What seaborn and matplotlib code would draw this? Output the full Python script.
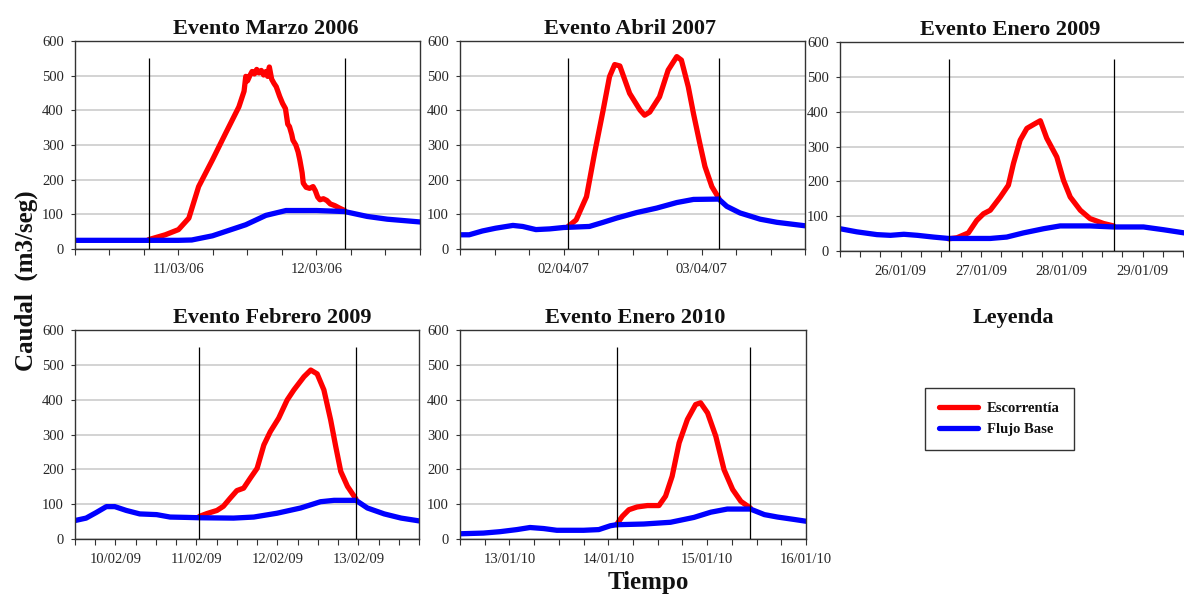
import pandas as pd
import numpy as np
import matplotlib
matplotlib.use("Agg")
import matplotlib.pyplot as plt
import matplotlib.dates as mdates
from matplotlib.lines import Line2D
import seaborn as sns

# --- Datos (horas relativas al dia de referencia de cada evento, caudal m3/seg) ---
TITULOS = ["Evento Marzo 2006", "Evento Abril 2007", "Evento Enero 2009",
           "Evento Febrero 2009", "Evento Enero 2010"]
FECHA_REF = ["2006-03-11", "2007-04-02", "2009-01-27", "2009-02-11", "2010-01-14"]
XLIM_H = [(-18, 42), (-18, 42), (-42, 66), (-36, 66), (-36, 48)]
LIMITES_H = [(-5.2, 28.9), (0.8, 27.0), (-9.7, 39.4), (0.9, 47.3), (2.0, 34.5)]
SERIES = ["Escorrentía", "Flujo Base"]

# Evento Marzo 2006
mar06_esc_h = [-5.2, -2.3, 0.0, 1.8, 3.5, 5.9, 8.2, 10.5, 11.4, 11.7, 12.0, 12.4, 12.8,
               13.2, 13.6, 14.0, 14.4, 14.8, 15.2, 15.5, 15.8, 16.2, 16.6, 17.0, 17.6,
               18.1, 18.6, 19.0, 19.3, 19.7, 19.9, 20.4, 20.8, 21.1, 21.5, 21.7, 22.2,
               22.8, 23.4, 23.8, 24.2, 24.6, 25.2, 25.8, 26.4, 27.2, 28.0, 28.9]
mar06_esc_q = [27, 41, 56, 89, 180, 257, 334, 410, 455, 498, 485, 500, 512,
               505, 518, 508, 515, 502, 512, 498, 525, 490, 478, 468, 440,
               420, 405, 360, 353, 330, 314, 300, 280, 257, 220, 190, 178,
               175, 180, 168, 150, 142, 145, 140, 130, 125, 118, 111]
mar06_base_h = [-18, -6, 0, 2.3, 5.9, 11.7, 15.2, 18.7, 24.0, 28.9, 32.8, 36.3, 42]
mar06_base_q = [25, 25, 25, 26, 38, 70, 97, 111, 111, 108, 94, 86, 78]

# Evento Abril 2007
abr07_esc_h = [0.8, 2.2, 4.0, 5.4, 6.9, 8.0, 8.9, 9.8, 11.5, 13.3, 14.1, 15.0, 16.7,
               18.2, 19.7, 20.5, 21.7, 22.6, 23.7, 24.6, 25.8, 27.0]
abr07_esc_q = [65, 84, 151, 276, 401, 497, 532, 528, 449, 401, 386, 395, 439,
               516, 555, 545, 468, 391, 305, 238, 180, 147]
abr07_base_h = [-18, -16.4, -14.1, -11.8, -8.8, -7.1, -4.8, -2.4, 0.0, 4.5, 6.9, 9.2,
                12.7, 16.2, 19.7, 22.6, 27.0, 28.4, 30.7, 34.2, 37.1, 42]
abr07_base_q = [41, 41, 52, 60, 68, 65, 56, 58, 62, 65, 77, 89,
                105, 118, 134, 143, 144, 123, 104, 86, 77, 67]

# Evento Enero 2009
ene09_esc_h = [-9.7, -7.2, -3.8, -1.3, 0.7, 2.7, 5.7, 8.1, 9.6, 11.6, 13.6, 16.1, 17.6,
               19.5, 22.5, 24.5, 26.5, 29.5, 32.4, 36.4, 39.4]
ene09_esc_q = [35, 38, 52, 88, 107, 117, 155, 189, 251, 318, 352, 366, 374,
               324, 270, 203, 155, 117, 93, 79, 72]
ene09_base_h = [-42, -37, -31, -27, -23, -19, -14.2, -9.7, 2.7, 7.6, 12.6, 18.6, 23.5,
                32.4, 39.4, 48.3, 54.3, 60.4, 66]
ene09_base_q = [64, 55, 47, 45, 48, 45, 40, 36, 36, 40, 52, 64, 72,
                72, 69, 69, 61, 52, 48]

# Evento Febrero 2009
feb09_esc_h = [0.9, 3.1, 6.1, 8.0, 10.0, 12.0, 14.0, 16.0, 18.0, 20.0, 21.9, 24.4,
               26.9, 28.9, 31.9, 33.9, 35.8, 37.8, 39.8, 41.3, 42.8, 44.8, 47.3]
feb09_esc_q = [65, 73, 82, 94, 117, 139, 146, 175, 203, 270, 308, 347,
               399, 428, 466, 485, 474, 428, 342, 266, 194, 151, 115]
feb09_base_h = [-36, -32.7, -29.7, -26.7, -24.2, -20.8, -16.8, -11.8, -7.8, -2.9, 0.9,
                11.0, 17.0, 23.9, 30.9, 36.8, 40.8, 47.3, 50.7, 55.7, 60.7, 66]
feb09_base_q = [53, 60, 76, 93, 93, 82, 72, 70, 63, 62, 61,
                60, 63, 74, 89, 107, 111, 111, 89, 72, 60, 52]

# Evento Enero 2010
ene10_esc_h = [2.0, 3.4, 5.0, 7.0, 9.5, 12.3, 13.9, 15.5, 17.2, 19.2, 21.2, 22.4,
               24.1, 26.1, 28.1, 30.2, 32.2, 34.5]
ene10_esc_q = [41, 65, 84, 92, 96, 96, 123, 180, 276, 343, 386, 391,
               362, 295, 199, 142, 108, 89]
ene10_base_h = [-36, -30.3, -26.3, -22.2, -19.0, -15.7, -12.5, -6.0, -2.3, 0.5, 2.0,
                8.6, 15.1, 20.8, 24.9, 28.9, 34.5, 37.9, 41.1, 45.2, 48]
ene10_base_q = [15, 17, 21, 27, 33, 30, 25, 25, 27, 38, 41,
                43, 48, 62, 77, 86, 86, 70, 63, 56, 51]

ESC_H = [mar06_esc_h, abr07_esc_h, ene09_esc_h, feb09_esc_h, ene10_esc_h]
ESC_Q = [mar06_esc_q, abr07_esc_q, ene09_esc_q, feb09_esc_q, ene10_esc_q]
BASE_H = [mar06_base_h, abr07_base_h, ene09_base_h, feb09_base_h, ene10_base_h]
BASE_Q = [mar06_base_q, abr07_base_q, ene09_base_q, feb09_base_q, ene10_base_q]

COLORES = {"Escorrentía": "#ff0000", "Flujo Base": "#0000ff"}
W, H = 1184, 597
# posiciones de los paneles en pixeles: (izq, arriba, ancho, alto)
POS_PX = [(75, 41, 345, 208), (460, 41, 345, 208), (840, 42, 363, 209),
          (75, 330, 344, 209), (460, 330, 346, 209)]
TITULO_DX = [18, -2, -11, 25, 2]   # desplazamiento horizontal del titulo (px)
POS_LEYENDA = (842, 330, 342, 209)

sns.set_style("white")
plt.rcParams.update({
    "font.family": ["Liberation Serif", "DejaVu Serif"],
    "font.size": 10.5,
    "axes.titlesize": 16, "axes.titleweight": "bold",
    "text.color": "#111111",
})


def fechas(ref, horas):
    return pd.Timestamp(ref) + pd.to_timedelta(np.asarray(horas, dtype=float), unit="h")


def px_a_fig(p):
    x, y, w, h = p
    return [x / W, 1 - (y + h) / H, w / W, h / H]


fig = plt.figure(figsize=(W / 100, H / 100), dpi=100)

for i in range(5):
    ax = fig.add_axes(px_a_fig(POS_PX[i]))
    ref = FECHA_REF[i]
    df = pd.concat([
        pd.DataFrame({"fecha": fechas(ref, ESC_H[i]), "caudal": ESC_Q[i], "serie": SERIES[0]}),
        pd.DataFrame({"fecha": fechas(ref, BASE_H[i]), "caudal": BASE_Q[i], "serie": SERIES[1]}),
    ])
    sns.lineplot(data=df, x="fecha", y="caudal", hue="serie", hue_order=SERIES,
                 palette=COLORES, estimator=None, linewidth=3.8, legend=False,
                 solid_capstyle="round", solid_joinstyle="round", ax=ax)
    for h in LIMITES_H[i]:
        ax.vlines(fechas(ref, [h])[0], 0, 550, color="black", linewidth=0.9, zorder=3)

    x0, x1 = fechas(ref, XLIM_H[i])
    ax.set_xlim(x0, x1)
    ax.set_ylim(0, 600)
    ax.set_yticks(range(0, 601, 100))
    ax.yaxis.grid(True, color="#d0d0d0", linewidth=1.3)
    ax.set_axisbelow(True)
    ax.xaxis.set_major_locator(mdates.DayLocator())
    ax.xaxis.set_major_formatter(mdates.DateFormatter("%d/%m/%y"))
    ax.xaxis.set_minor_locator(mdates.HourLocator(byhour=[0, 6, 12, 18]))
    ax.tick_params(axis="x", which="both", direction="out", length=4, width=0.8,
                   color="#333333", pad=6, labelsize=10.5, bottom=True)
    ax.tick_params(axis="y", direction="out", length=3, width=0.8, color="#333333",
                   pad=5, labelsize=10.5, left=True)
    for s in ax.spines.values():
        s.set_color("#333333")
        s.set_linewidth(1.0)
    ax.set_xlabel("")
    ax.set_ylabel("")
    ax.set_title(TITULOS[i], pad=5, x=0.5 + TITULO_DX[i] / POS_PX[i][2])

# panel de leyenda
axl = fig.add_axes(px_a_fig(POS_LEYENDA))
axl.axis("off")
axl.set_title("Leyenda", pad=5, x=0.5)
manejadores = [Line2D([], [], color=COLORES[s], linewidth=3.8) for s in SERIES]
fig.legend(manejadores, SERIES, loc="upper left",
           bbox_to_anchor=(925 / W, 1 - 388 / H), bbox_transform=fig.transFigure,
           frameon=True, fancybox=False, edgecolor="#333333", framealpha=1,
           handlelength=2.7, handletextpad=0.6, labelspacing=0.55, borderpad=0.95,
           borderaxespad=0,
           prop={"weight": "bold", "size": 10.5, "family": "Liberation Serif"})

fig.text(26 / W, 1 - 281 / H, "Caudal  (m3/seg)", rotation=90, ha="center", va="center",
         fontsize=18, fontweight="bold")
fig.text(648 / W, 1 - 583 / H, "Tiempo", ha="center", va="center",
         fontsize=18, fontweight="bold")

fig.savefig("out.png", dpi=100)
